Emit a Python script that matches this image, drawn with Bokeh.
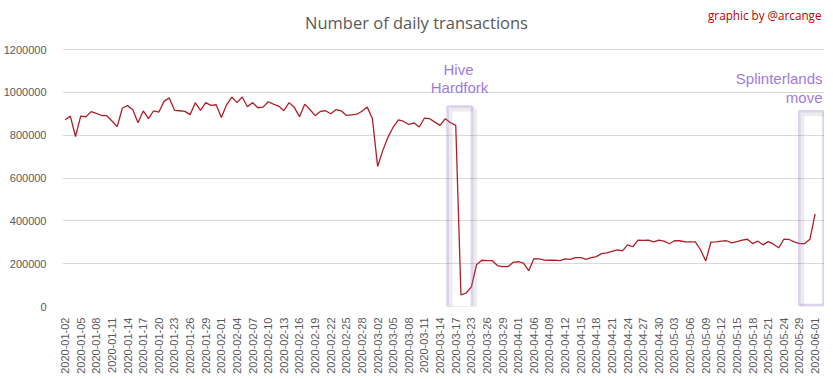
import math
import pandas as pd
from bokeh.plotting import figure
from bokeh.models import (Range1d, NumeralTickFormatter, FixedTicker, Label, BoxAnnotation)
from bokeh.embed import file_html
from bokeh.resources import INLINE

# ---- data -------------------------------------------------------------
missing_days = ["2020-03-19", "2020-03-20", "2020-03-21",
                "2020-04-03", "2020-04-04",
                "2020-05-26", "2020-05-27"]
dates = [d.strftime("%Y-%m-%d") for d in pd.date_range("2020-01-02", "2020-06-01")
         if d.strftime("%Y-%m-%d") not in missing_days]

transactions = [
    872000, 889000, 794000, 889000, 886000, 910000, 902000, 892000, 891000, 866000,
    840000, 927000, 938000, 919000, 858000, 913000, 877000, 914000, 908000, 958000,
    974000, 916000, 914000, 911000, 896000, 951000, 916000, 952000, 939000, 942000,
    882000, 942000, 978000, 952000, 978000, 933000, 952000, 928000, 931000, 956000,
    945000, 936000, 914000, 952000, 930000, 886000, 945000, 920000, 891000, 911000,
    914000, 900000, 919000, 914000, 892000, 895000, 898000, 912000, 931000, 877000,
    654000, 729000, 791000, 838000, 872000, 864000, 850000, 857000, 838000, 880000,
    877000, 861000, 846000, 877000, 858000, 846000, 54000, 63000, 92000, 195000,
    216000, 214000, 214000, 191000, 186000, 186000, 206000, 209000, 203000, 167000,
    223000, 222000, 217000, 216000, 217000, 214000, 222000, 220000, 228000, 228000,
    220000, 228000, 233000, 247000, 250000, 257000, 264000, 260000, 288000, 279000,
    310000, 309000, 310000, 302000, 310000, 305000, 293000, 307000, 307000, 302000,
    302000, 302000, 265000, 212000, 301000, 302000, 305000, 307000, 297000, 303000,
    310000, 314000, 294000, 305000, 288000, 303000, 291000, 274000, 314000, 313000,
    302000, 294000, 294000, 314000, 433000,
]

label_step = 3
positions = list(range(len(dates)))
tick_positions = positions[::label_step]
tick_labels = {i: dates[i] for i in tick_positions}

y_ticks = [0, 200000, 400000, 600000, 800000, 1000000, 1200000]

title_text = "Number of daily transactions"
credit_text = "graphic by @arcange"
event1_lines = ["Hive", "Hardfork"]
event2_lines = ["Splinterlands", "move"]

# ---- figure -----------------------------------------------------------
# frame spans up to the top/right of the canvas so the annotations are not clipped
p = figure(frame_width=762, frame_height=306, output_backend="svg", toolbar_location=None,
           x_range=Range1d(-0.5, 145.8), y_range=Range1d(0, 1428900),
           min_border_left=55, min_border_right=0, min_border_top=0, min_border_bottom=65)
p.background_fill_color = "white"
p.border_fill_color = "white"
p.outline_line_color = None

p.line(positions, transactions, line_color="#AE1F28", line_width=1.3)

# axes
p.yaxis.ticker = FixedTicker(ticks=y_ticks)
p.yaxis.formatter = NumeralTickFormatter(format="0")
p.yaxis.axis_line_color = None
p.yaxis.major_tick_line_color = None
p.yaxis.minor_tick_line_color = None
p.yaxis.major_label_standoff = 10
p.yaxis.major_label_text_font = "Liberation Sans"
p.yaxis.major_label_text_font_size = "11px"
p.yaxis.major_label_text_color = "#595959"

p.xaxis.ticker = FixedTicker(ticks=tick_positions)
p.xaxis.major_label_overrides = tick_labels
p.xaxis.axis_line_color = None
p.xaxis.major_tick_line_color = None
p.xaxis.minor_tick_line_color = None
p.xaxis.major_label_orientation = math.pi / 2
p.xaxis.major_label_standoff = 5
p.xaxis.major_label_text_font = "Liberation Sans"
p.xaxis.major_label_text_font_size = "11px"
p.xaxis.major_label_text_color = "#595959"

p.xgrid.grid_line_color = None
p.ygrid.grid_line_color = "#D9D9D9"
p.ygrid.grid_line_width = 1
p.ygrid.bounds = (-0.5, 144.7)

# ---- annotations (screen units, relative to frame bottom-left) --------
p.add_layout(Label(x=354, y=284, x_units="screen", y_units="screen", text=title_text,
                   text_align="center", text_baseline="middle", text_font="Open Sans",
                   text_font_size="16.5px", text_color="#595959"))
p.add_layout(Label(x=759, y=292, x_units="screen", y_units="screen", text=credit_text,
                   text_align="right", text_baseline="middle", text_font="Open Sans",
                   text_font_size="11.7px", text_color="#C00000"))

purple_text = "#A07BDE"
purple_box = "#9966CC"
p.add_layout(Label(x=396, y=237, x_units="screen", y_units="screen", text=event1_lines[0],
                   text_align="center", text_baseline="middle", text_font="Liberation Sans",
                   text_font_size="15px", text_color=purple_text))
p.add_layout(Label(x=397, y=219, x_units="screen", y_units="screen", text=event1_lines[1],
                   text_align="center", text_baseline="middle", text_font="Liberation Sans",
                   text_font_size="15px", text_color=purple_text))
p.add_layout(Label(x=760, y=228, x_units="screen", y_units="screen", text=event2_lines[0],
                   text_align="right", text_baseline="middle", text_font="Liberation Sans",
                   text_font_size="15px", text_color=purple_text))
p.add_layout(Label(x=760, y=209, x_units="screen", y_units="screen", text=event2_lines[1],
                   text_align="right", text_baseline="middle", text_font="Liberation Sans",
                   text_font_size="15px", text_color=purple_text))

for (l, r, t, b) in [(385, 409.5, 200, -0.7), (736.7, 761, 195.3, 1.5)]:
    shadow = BoxAnnotation(left=l + 3, right=r + 3, top=t - 3, bottom=b - 3,
                           left_units="screen", right_units="screen",
                           top_units="screen", bottom_units="screen",
                           fill_alpha=0, line_color="#808080", line_alpha=0.15, line_width=4)
    box = BoxAnnotation(left=l, right=r, top=t, bottom=b,
                        left_units="screen", right_units="screen",
                        top_units="screen", bottom_units="screen",
                        fill_alpha=0, line_color=purple_box, line_width=2.6)
    p.add_layout(shadow)
    p.add_layout(box)

open("out.html", "w").write(file_html(p, INLINE))
